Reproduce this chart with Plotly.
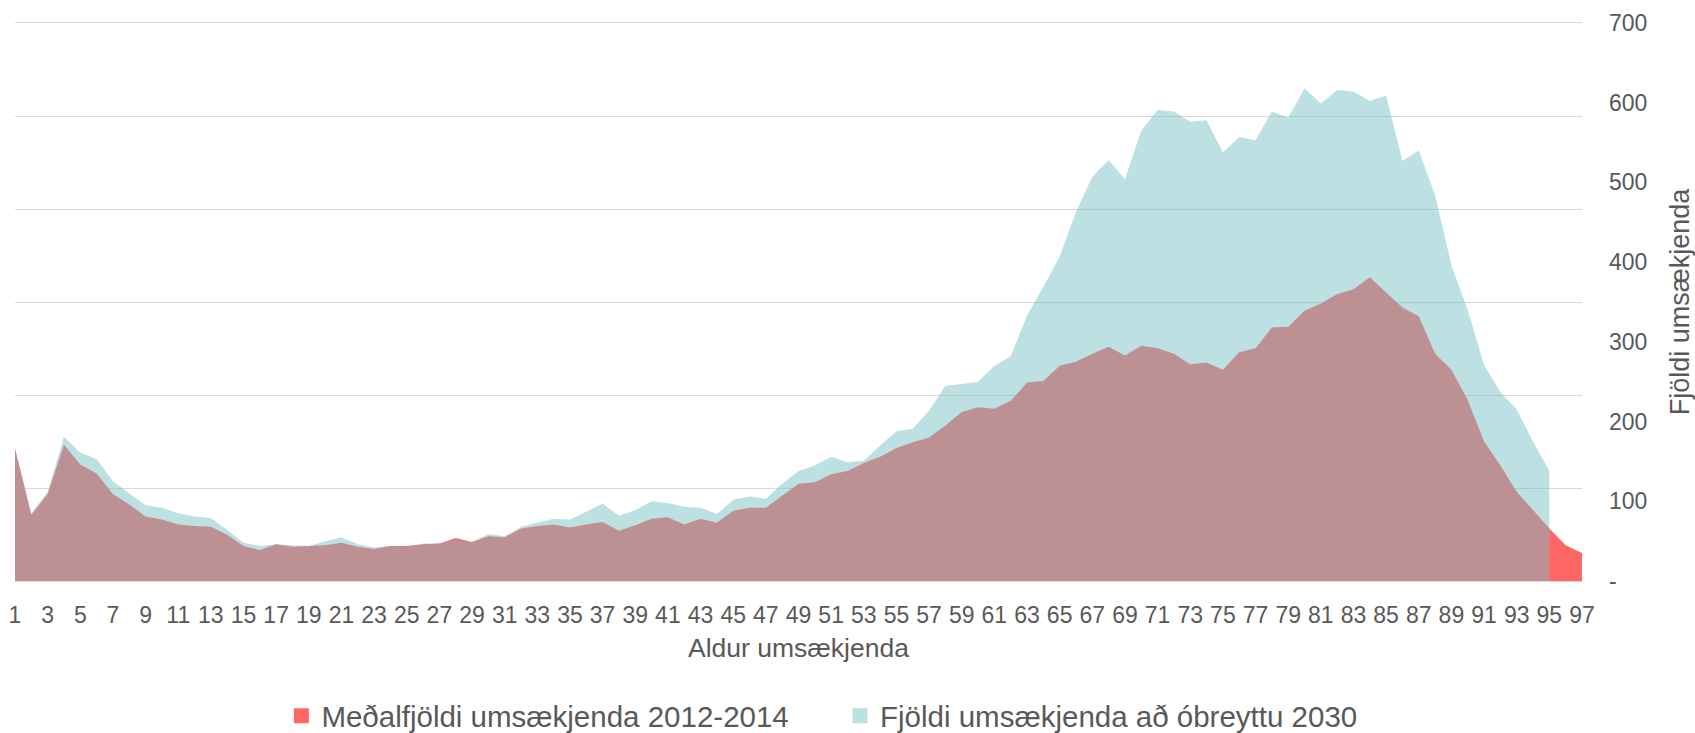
import plotly.graph_objects as go

ages = list(range(1, 98))
ages_2030 = list(range(1, 96))

avg_2012_2014 = [
    166, 83, 109, 171, 146, 135, 109, 96, 81, 77,
    71, 69, 68, 58, 44, 39, 46, 43, 44, 45,
    48, 43, 40, 44, 44, 46, 47, 54, 49, 56,
    55, 66, 69, 71, 67, 71, 74, 63, 70, 78,
    80, 71, 78, 73, 88, 92, 92, 107, 122, 124,
    134, 138, 148, 156, 167, 174, 180, 195, 212, 218,
    216, 226, 249, 251, 270, 275, 285, 294, 283, 295,
    292, 285, 272, 274, 265, 287, 292, 318, 319, 339,
    348, 360, 366, 381, 362, 343, 332, 285, 265, 227,
    175, 145, 112, 89, 66, 45, 35,
]

proj_2030 = [
    166, 85, 112, 181, 161, 153, 125, 110, 95, 92,
    85, 81, 79, 64, 48, 44, 46, 45, 44, 50,
    55, 46, 42, 44, 43, 47, 47, 52, 49, 59,
    56, 68, 73, 78, 77, 87, 97, 82, 89, 100,
    98, 93, 92, 84, 102, 106, 103, 122, 138, 145,
    156, 149, 151, 170, 188, 191, 214, 245, 247, 250,
    270, 282, 333, 369, 407, 463, 507, 528, 504, 565,
    591, 589, 576, 578, 538, 557, 553, 589, 581, 618,
    599, 616, 614, 602, 609, 527, 540, 484, 396, 340,
    271, 237, 215, 175, 138,
]

name_red = "Meðalfjöldi umsækjenda 2012-2014"
name_cyan = "Fjöldi umsækjenda að óbreyttu 2030"
x_ticks = list(range(1, 98, 2))
y_ticks = list(range(0, 701, 100))
y_ticktext = ["-"] + [str(v) for v in y_ticks[1:]]

RED = "rgb(255,102,102)"
CYAN_FILL = "rgba(119,193,197,0.484)"
CYAN_LEG = "rgb(189,225,227)"
TXT = "#595959"
GRID = "#D9D9D9"
FONT = "Liberation Sans, Arial, sans-serif"

fig = go.Figure()

fig.add_trace(go.Scatter(
    x=ages, y=avg_2012_2014, name=name_red, mode="none",
    fill="tozeroy", fillcolor=RED, yaxis="y2", showlegend=False,
    hoverinfo="x+y",
))
fig.add_trace(go.Scatter(
    x=ages_2030, y=proj_2030, name=name_cyan, mode="none",
    fill="tozeroy", fillcolor=CYAN_FILL, yaxis="y2", showlegend=False,
    hoverinfo="x+y",
))

# legend entries (square swatches)
fig.add_trace(go.Scatter(
    x=[None], y=[None], name=name_red, mode="markers",
    marker=dict(symbol="square", size=15, color=RED), legend="legend",
))
fig.add_trace(go.Scatter(
    x=[None], y=[None], name=name_cyan, mode="markers",
    marker=dict(symbol="square", size=15, color=CYAN_LEG), legend="legend2",
))

fig.update_layout(
    width=1695, height=733,
    margin=dict(l=15, r=113, t=23, b=152, autoexpand=False),
    paper_bgcolor="white", plot_bgcolor="white",
    font=dict(family=FONT, color=TXT),
    xaxis=dict(
        range=[1, 97], tickmode="array", tickvals=x_ticks, tickangle=0,
        showgrid=False, zeroline=False, showline=True, mirror=True,
        linecolor=GRID, linewidth=1.3, ticks="",
        tickfont=dict(size=23, color=TXT), ticklabelstandoff=13,
        title=dict(text="Aldur umsækjenda", font=dict(size=26.5, color=TXT), standoff=11),
    ),
    yaxis=dict(
        range=[0, 600], dtick=100, showgrid=True, gridcolor=GRID, gridwidth=1.3,
        showticklabels=False, zeroline=False, ticks="", showline=False,
    ),
    yaxis2=dict(
        range=[0, 700], overlaying="y", side="right", tickmode="array",
        tickvals=y_ticks, ticktext=y_ticktext, showgrid=False, zeroline=False,
        ticks="", tickfont=dict(size=23, color=TXT), ticklabelstandoff=26,
        title=dict(text="Fjöldi umsækjenda", font=dict(size=27, color=TXT), standoff=25),
    ),
    legend=dict(
        orientation="h", x=0.170, xanchor="left", y=-0.242, yanchor="middle",
        font=dict(size=29.5, color=TXT), bgcolor="rgba(0,0,0,0)",
    ),
    legend2=dict(
        orientation="h", x=0.5265, xanchor="left", y=-0.242, yanchor="middle",
        font=dict(size=29.5, color=TXT), bgcolor="rgba(0,0,0,0)",
    ),
)

fig.write_html(
    "out.html",
    config={"displayModeBar": False},
    post_script="document.body.style.margin='0';document.body.style.overflow='hidden';",
)
